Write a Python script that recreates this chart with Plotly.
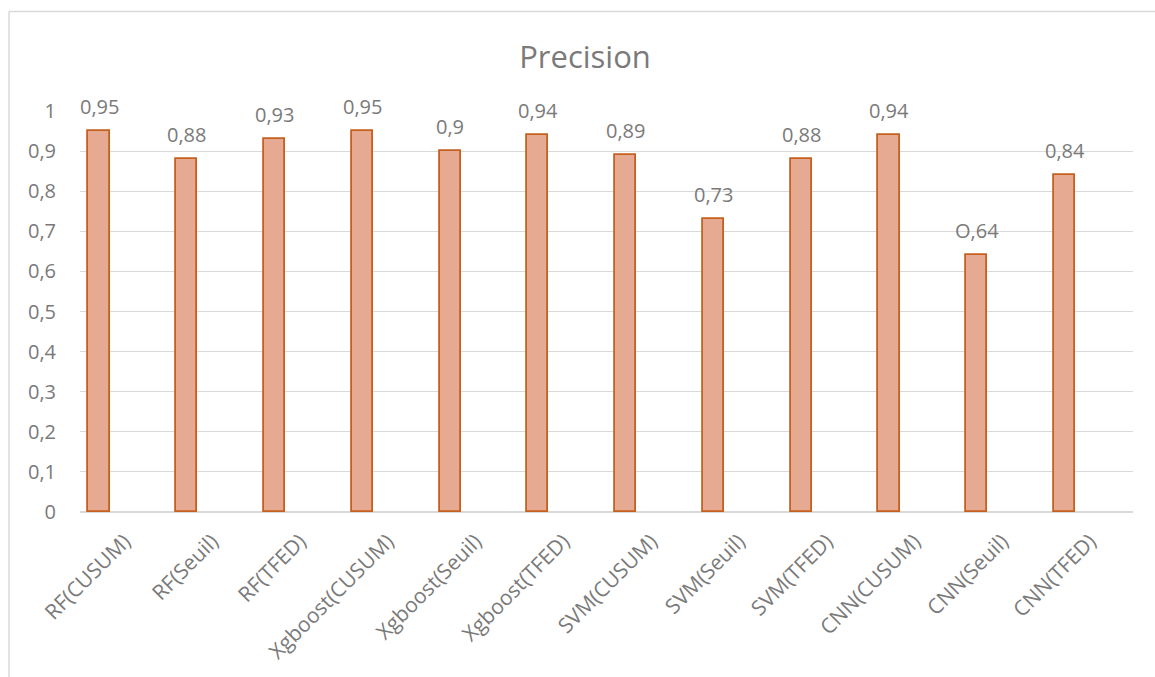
import plotly.graph_objects as go

# Precision scores per model / detection method
categories = [
    "RF(CUSUM)", "RF(Seuil)", "RF(TFED)",
    "Xgboost(CUSUM)", "Xgboost(Seuil)", "Xgboost(TFED)",
    "SVM(CUSUM)", "SVM(Seuil)", "SVM(TFED)",
    "CNN(CUSUM)", "CNN(Seuil)", "CNN(TFED)",
]
precision = [0.95, 0.88, 0.93, 0.95, 0.90, 0.94, 0.89, 0.73, 0.88, 0.94, 0.64, 0.84]
value_labels = ["0,95", "0,88", "0,93", "0,95", "0,9", "0,94", "0,89", "0,73", "0,88", "0,94", "O,64", "0,84"]
y_ticks = [0, 0.1, 0.2, 0.3, 0.4, 0.5, 0.6, 0.7, 0.8, 0.9, 1]
y_tick_text = ["0", "0,1", "0,2", "0,3", "0,4", "0,5", "0,6", "0,7", "0,8", "0,9", "1"]

FONT = "Open Sans"
GREY = "#7a7a7a"

x_idx = list(range(len(categories)))

fig = go.Figure()
fig.add_trace(go.Bar(
    x=x_idx,
    y=precision,
    width=0.24,
    marker=dict(color="#E5AA91", line=dict(color="#C5601F", width=1.8)),
    hoverinfo="skip",
))

for i, (v, t) in enumerate(zip(precision, value_labels)):
    fig.add_annotation(
        x=i, y=v, text=t, showarrow=False,
        yanchor="middle", yshift=25,
        font=dict(family=FONT, size=20, color=GREY),
    )

# light frame around the chart
fig.add_shape(type="line", xref="paper", yref="paper",
              x0=-0.0674, x1=1.03, y0=1.248, y1=1.248,
              line=dict(color="#D9D9D9", width=1.5))
fig.add_shape(type="line", xref="paper", yref="paper",
              x0=-0.0674, x1=-0.0674, y0=1.248, y1=-0.42,
              line=dict(color="#D9D9D9", width=1.5))

fig.update_layout(
    width=1155, height=677,
    margin=dict(l=80, r=22, t=111, b=165),
    paper_bgcolor="white", plot_bgcolor="white",
    showlegend=False,
    bargap=0,
    title=dict(text="Precision", xref="container", x=0.5065, xanchor="center",
               y=0.915, yanchor="middle",
               font=dict(family=FONT, size=31, color=GREY)),
    xaxis=dict(
        range=[-0.2165, 11.78],
        tickmode="array",
        tickvals=[i + 0.29 for i in x_idx],
        ticktext=categories,
        tickangle=-45,
        showgrid=False, zeroline=False, showline=False, ticks="",
        ticklabelstandoff=12,
        tickfont=dict(family=FONT, size=21, color=GREY),
    ),
    yaxis=dict(
        range=[0, 1],
        tickmode="array",
        tickvals=y_ticks,
        ticktext=y_tick_text,
        showgrid=True, gridcolor="#D9D9D9", gridwidth=1.3,
        zeroline=True, zerolinecolor="#D9D9D9", zerolinewidth=1.5,
        showline=False, ticks="", ticklabelstandoff=23,
        tickfont=dict(family=FONT, size=20, color=GREY),
    ),
)

fig.write_html("out.html")
